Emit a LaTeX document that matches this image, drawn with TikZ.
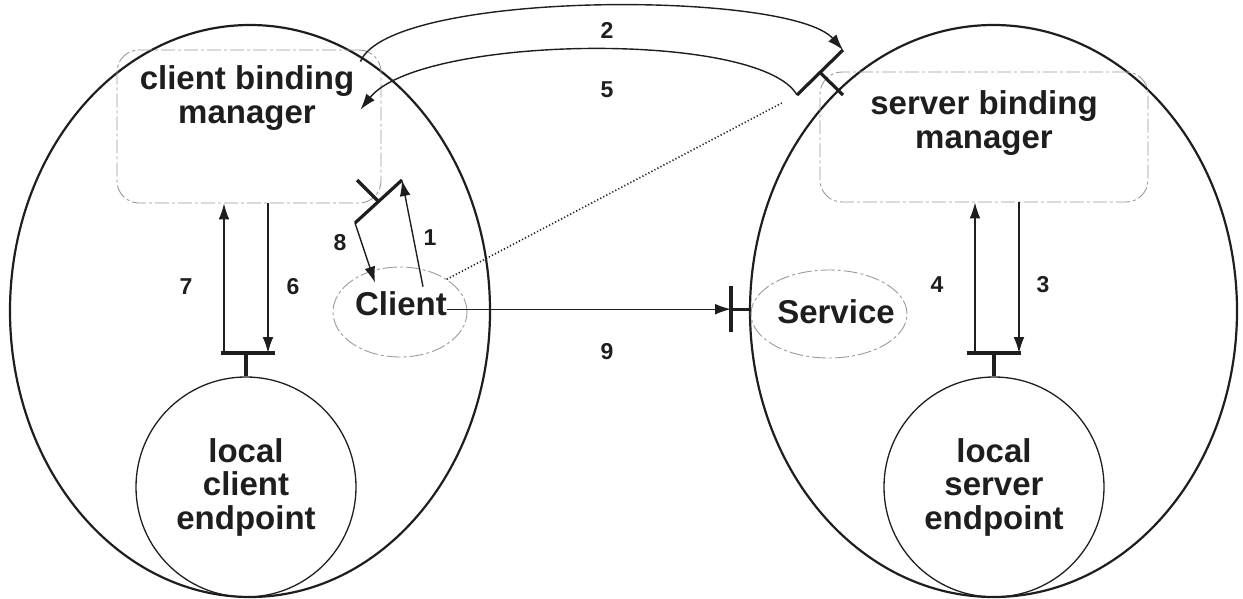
\documentclass[tikz,border=0pt]{standalone}
\usepackage{fontspec}
\setmainfont{Liberation Sans}
\usetikzlibrary{shapes.geometric,arrows.meta,calc}
\definecolor{ink}{HTML}{1E1E1E}
\definecolor{faint}{HTML}{9A9A9A}
\begin{document}
\begin{tikzpicture}[x=0.5pt,y=-0.5pt,
  realm/.style={ellipse, draw=ink, line width=1.1pt, inner sep=0pt},
  faintbox/.style={rectangle, draw=faint, line width=0.45pt, rounded corners=11pt,
    dash pattern=on 7pt off 1.5pt on 1.5pt off 1.5pt, inner sep=0pt},
  faintell/.style={ellipse, draw=faint, line width=0.45pt,
    dash pattern=on 7pt off 1.5pt on 1.5pt off 1.5pt, inner sep=0pt},
  lbl/.style={font=\fontsize{16.5}{16.75}\selectfont\bfseries, text=ink, align=center, inner sep=0pt},
  endpt/.style={circle, draw=ink, line width=0.65pt, minimum size=110pt, lbl},
  num/.style={font=\fontsize{11.5}{13}\selectfont\bfseries, text=ink, inner sep=0pt},
  arr/.style={draw=ink, line width=0.7pt, -{Latex[length=8pt,width=5.4pt]}},
  tbar/.style={draw=ink, line width=1.6pt},
  dotline/.style={draw=ink, line width=0.8pt, dash pattern=on 0.6pt off 1.1pt}]
\useasboundingbox (0,0) rectangle (1243,599);

% the two domains
\node[realm, minimum width=240pt, minimum height=286pt] (cdom) at (250,311) {};
\node[realm, minimum width=243.5pt, minimum height=286pt] (sdom) at (993.5,311) {};

% binding managers
\node[faintbox, minimum width=132pt, minimum height=76.5pt] (cbm) at (249,126.5) {};
\node[lbl] (cbmtext) at (247,98) {client binding\\manager};
\node[faintbox, minimum width=164pt, minimum height=65pt] (sbm) at (984,137) {};
\node[lbl] (sbmtext) at (984,123) {server binding\\manager};

% local endpoints
\node[endpt] (lce) at (246,487) {local\\client\\endpoint};
\node[endpt] (lse) at (994,487) {local\\server\\endpoint};

% client and service
\node[faintell, minimum width=67pt, minimum height=45pt] (cshape) at (400,312) {};
\node[lbl, anchor=base] (client) at (401,315) {Client};
\node[faintell, minimum width=78pt, minimum height=44pt] (sshape) at (829,314) {};
\node[lbl, anchor=base] (service) at (836,323) {Service};

% interface bars of the endpoints
\coordinate (cbarL) at (221,353); \coordinate (cbarR) at (275,353);
\coordinate (a7) at (224,353); \coordinate (a6) at (268,353);
\draw[tbar] (cbarL) -- (cbarR);
\draw[tbar] (lce.north |- cbarL) -- (lce.north);
\draw[arr] (a7) -- (a7 |- cbm.south);
\draw[arr] (a6 |- cbm.south) -- (a6);

\coordinate (sbarL) at (967,353); \coordinate (sbarR) at (1021,353);
\coordinate (a4) at (975,353); \coordinate (a3) at (1019,353);
\draw[tbar] (sbarL) -- (sbarR);
\draw[tbar] (lse.north |- sbarL) -- (lse.north);
\draw[arr] (a4) -- (a4 |- sbm.south);
\draw[arr] (a3 |- sbm.south) -- (a3);

% interface of the client binding manager
\coordinate (kA) at (355,223); \coordinate (kB) at (402,180); \coordinate (kC) at (357,180);
\draw[tbar] (kA) -- (kB);
\draw[tbar] ($(kA)!.5!(kB)$) -- (kC);
\draw[arr] ([xshift=11pt,yshift=2pt]client.north) -- (kB);
\draw[arr] (kA) -- ([xshift=-13pt,yshift=4pt]client.north);

% interface of the server binding manager
\coordinate (tA) at (797,95); \coordinate (tB) at (843,50); \coordinate (tC) at (843,95);
\draw[tbar] (tA) -- (tB);
\draw[tbar] ($(tA)!.5!(tB)$) -- (tC);
\draw[arr] ([xshift=-10.5pt,yshift=-6pt]cbm.north east) .. controls (390,-10) and (790,-10) .. (tB);
\draw[arr] (tA) .. controls (760,30) and (420,35) .. ([xshift=-10.5pt,yshift=-30pt]cbm.north east);
\draw[dotline, shorten >=8pt] (cshape.35) -- (tA);

% interface of the service
\coordinate (sT) at ([yshift=-3pt]client.east -| 731,0);
\draw[tbar] ([yshift=11.5pt]sT) -- ([yshift=-11.5pt]sT);
\draw[tbar] (sT) -- (sT -| sshape.west);
\draw[arr] ([yshift=-3pt]client.east) -- (sT);

% step numbers
\node[num] (n1) at (430,238) {1};
\node[num] (n2) at (607,30) {2};
\node[num] (n3) at (1043,285) {3};
\node[num] (n4) at (937,285) {4};
\node[num] (n5) at (607,90) {5};
\node[num] (n6) at (293,287) {6};
\node[num] (n7) at (186,287) {7};
\node[num] (n8) at (340,243) {8};
\node[num] (n9) at (607,352) {9};
\end{tikzpicture}
\end{document}
